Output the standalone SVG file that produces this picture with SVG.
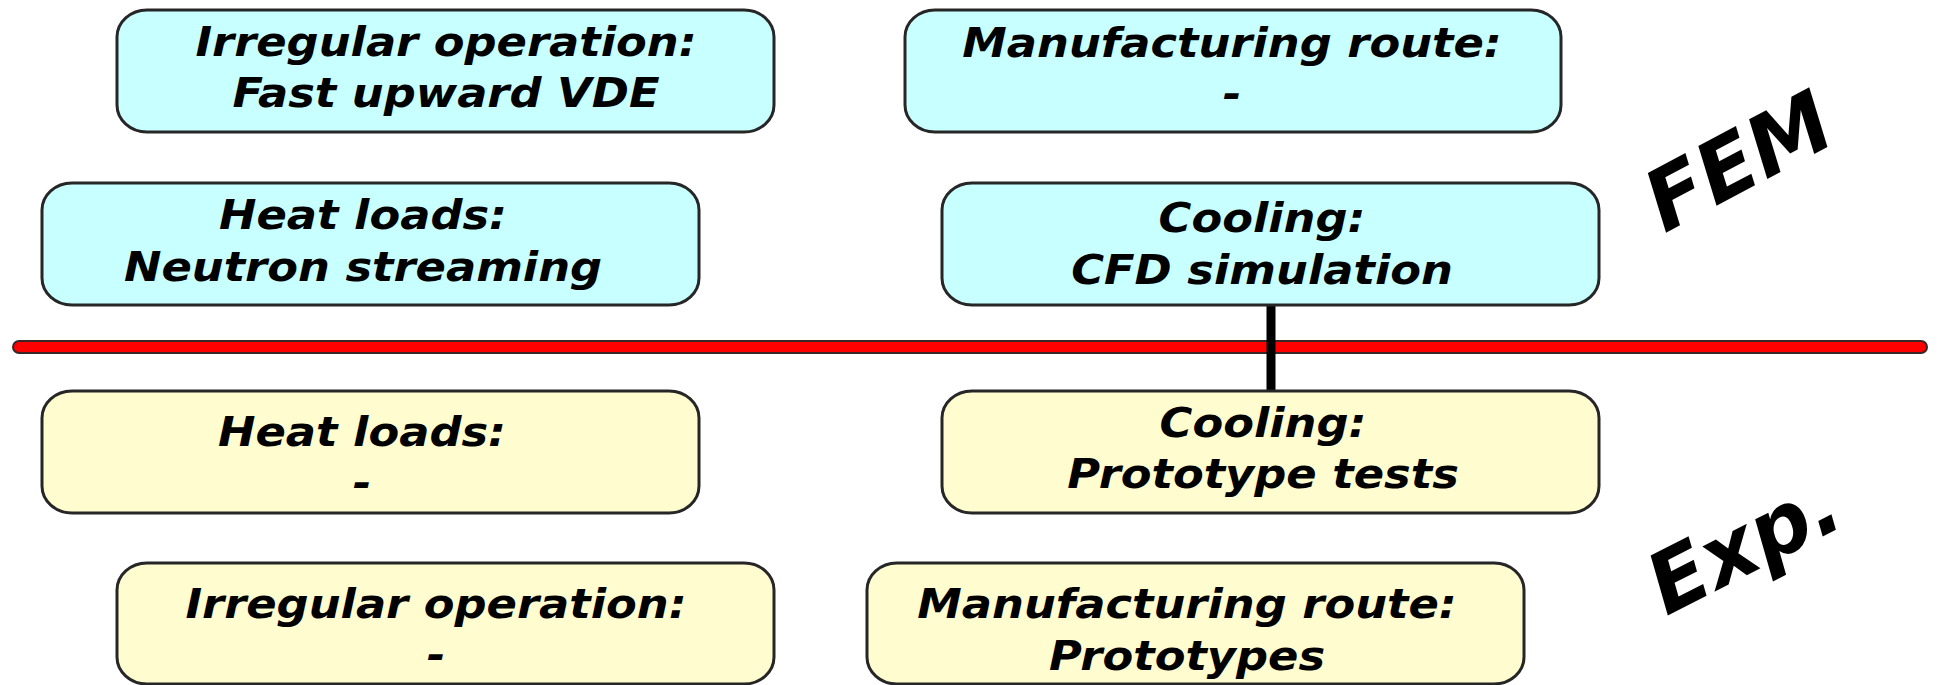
<svg xmlns="http://www.w3.org/2000/svg" width="1939" height="685" viewBox="0 0 1939 685">
  <style>
    .box { stroke: #262626; stroke-width: 3; }
    .fem { fill: #c8ffff; }
    .exp { fill: #fffcd0; }
    .lbl { font-family: "DejaVu Sans", Verdana, sans-serif; font-weight: bold; font-style: oblique; font-size: 40px; fill: #000; text-anchor: middle; }
    .side { font-family: "DejaVu Sans", Verdana, sans-serif; font-weight: bold; font-style: oblique; font-size: 84px; fill: #000; text-anchor: middle; }
  </style>

  <!-- divider between simulation and experiment -->
  <g id="divider">
    <line x1="19" y1="347" x2="1921" y2="347" stroke="#3a2626" stroke-width="14" stroke-linecap="round"/>
    <line x1="19" y1="347" x2="1921" y2="347" stroke="#ff0000" stroke-width="10" stroke-linecap="round"/>
  </g>

  <!-- connectors -->
  <g id="connectors">
    <line x1="1271" y1="305" x2="1271" y2="392" stroke="#000" stroke-width="9"/>
  </g>

  <!-- FEM side -->
  <g id="fem-irregular">
    <rect class="box fem" x="117" y="10" width="657" height="122" rx="30" ry="27"/>
    <text class="lbl" transform="translate(446,56) scale(1.12,1)"><tspan x="0" y="0">Irregular operation:</tspan><tspan x="0" y="51">Fast upward VDE</tspan></text>
  </g>
  <g id="fem-manufacturing">
    <rect class="box fem" x="905" y="10" width="656" height="122" rx="30" ry="27"/>
    <text class="lbl" transform="translate(1232,57) scale(1.12,1)"><tspan x="0" y="0">Manufacturing route:</tspan><tspan x="0" y="51">-</tspan></text>
  </g>
  <g id="fem-heat">
    <rect class="box fem" x="42" y="183" width="657" height="122" rx="30" ry="27"/>
    <text class="lbl" transform="translate(363,229) scale(1.12,1)"><tspan x="0" y="0">Heat loads:</tspan><tspan x="0" y="52">Neutron streaming</tspan></text>
  </g>
  <g id="fem-cooling">
    <rect class="box fem" x="942" y="183" width="657" height="122" rx="30" ry="27"/>
    <text class="lbl" transform="translate(1262,232) scale(1.12,1)"><tspan x="0" y="0">Cooling:</tspan><tspan x="0" y="52">CFD simulation</tspan></text>
  </g>

  <!-- Experimental side -->
  <g id="exp-heat">
    <rect class="box exp" x="42" y="391" width="657" height="122" rx="30" ry="27"/>
    <text class="lbl" transform="translate(362,446) scale(1.12,1)"><tspan x="0" y="0">Heat loads:</tspan><tspan x="0" y="51">-</tspan></text>
  </g>
  <g id="exp-cooling">
    <rect class="box exp" x="942" y="391" width="657" height="122" rx="30" ry="27"/>
    <text class="lbl" transform="translate(1263,437) scale(1.12,1)"><tspan x="0" y="0">Cooling:</tspan><tspan x="0" y="51">Prototype tests</tspan></text>
  </g>
  <g id="exp-irregular">
    <rect class="box exp" x="117" y="563" width="657" height="121" rx="30" ry="27"/>
    <text class="lbl" transform="translate(436,618) scale(1.12,1)"><tspan x="0" y="0">Irregular operation:</tspan><tspan x="0" y="51">-</tspan></text>
  </g>
  <g id="exp-manufacturing">
    <rect class="box exp" x="867" y="563" width="657" height="121" rx="30" ry="27"/>
    <text class="lbl" transform="translate(1187,618) scale(1.12,1)"><tspan x="0" y="0">Manufacturing route:</tspan><tspan x="0" y="52">Prototypes</tspan></text>
  </g>

  <!-- side labels -->
  <g id="label-fem">
    <text class="side" transform="translate(1752,187) rotate(-28)">FEM</text>
  </g>
  <g id="label-exp">
    <text class="side" transform="translate(1757,570) rotate(-27)">Exp.</text>
  </g>
</svg>
